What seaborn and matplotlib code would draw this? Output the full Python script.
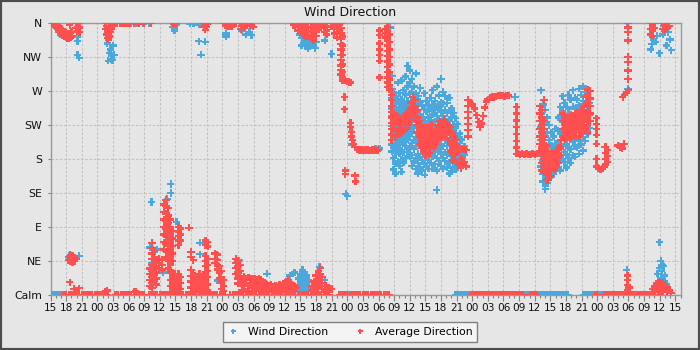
import numpy as np
import pandas as pd
import matplotlib
matplotlib.use("Agg")
import matplotlib.pyplot as plt
import seaborn as sns
from matplotlib.patches import Rectangle
from matplotlib.lines import Line2D
from matplotlib.ticker import MultipleLocator

# ---------------- data ----------------
# x: hours since 15:00 of the first day, y: direction in degrees (0 = Calm, 360 = N)
hour_labels = ["15", "18", "21", "00", "03", "06", "09", "12",
               "15", "18", "21", "00", "03", "06", "09", "12",
               "15", "18", "21", "00", "03", "06", "09", "12",
               "15", "18", "21", "00", "03", "06", "09", "12",
               "15", "18", "21", "00", "03", "06", "09", "12", "15"]
dir_labels = ["Calm", "NE", "E", "SE", "S", "SW", "W", "NW", "N"]
dir_ticks = [0, 45, 90, 135, 180, 225, 270, 315, 360]
series_names = ["Wind Direction", "Average Direction"]

# ---- Wind Direction (blue) ----
wind_north = [
    (1.3, [352]), (1.6, [348]), (1.9, [345]), (2.2, [343]),
    (5.2, [342, 336, 318]), (5.5, [314]),
    (10.9, [333]), (11.1, [310]), (11.3, [320]), (11.5, [325]), (11.6, [312]),
    (11.9, [311]), (12.0, [330]), (12.2, [318]),
    (15.5, [359]), (16.5, [360]), (17.8, [359]), (19.0, [360]),
    (23.4, [355]), (23.8, [350]), (24.0, [360]), (24.2, [357]),
    (26.8, [359]), (27.5, [360]), (28.5, [358, 336]), (28.9, [318]), (29.7, [335]),
    (33.7, [346, 342]),
    (36.8, [350]), (37.5, [345]), (38.2, [348]), (38.6, [344]),
    (47.9, [345]), (48.2, [330]), (48.3, [340]), (48.6, [350]), (48.8, [336]),
    (49.0, [344]), (49.2, [332]), (49.4, [326]), (49.6, [338]), (50.0, [334]),
    (50.2, [340]), (50.4, [330]), (50.8, [327]), (51.0, [335]),
    (52.7, [337]), (54.0, [319]),
    (65.2, [360, 354]),
    (110.7, [360]),
    (115.3, [325]), (115.5, [332]), (115.8, [338]), (116.2, [335]), (116.5, [343]),
    (117.0, [320]), (117.6, [345]), (117.8, [356]), (118.3, [330]), (118.6, [348]),
    (119.0, [338]), (119.2, [324]),
]
wind_cluster1 = [
    (65.6, [290, 273, 261, 247, 236, 224, 213, 199, 190]),
    (65.9, [268, 254, 243, 231, 219, 209, 195, 181, 166]),
    (66.3, [263, 249, 237, 227, 215, 201, 188, 174, 161]),
    (66.7, [281, 257, 245, 229, 217, 203, 193, 177]),
    (67.0, [267, 253, 239, 226, 213, 199, 187, 171]),
    (67.4, [284, 259, 247, 233, 219, 207, 191, 179, 163]),
    (67.8, [271, 254, 241, 229, 215, 203, 189, 175]),
    (68.2, [289, 265, 249, 237, 223, 209, 197, 181]),
    (68.6, [303, 276, 257, 245, 233, 217, 206, 189]),
    (69.0, [297, 281, 266, 251, 239, 223, 211, 195, 183]),
    (69.4, [286, 269, 257, 243, 231, 215, 201, 185, 171]),
    (69.8, [276, 261, 249, 233, 221, 205, 193, 177]),
    (70.2, [293, 267, 253, 237, 225, 209, 197, 181, 167]),
    (70.6, [263, 245, 231, 215, 203, 187, 175, 161]),
    (71.0, [274, 256, 239, 227, 211, 199, 183, 169]),
    (71.4, [251, 235, 223, 207, 195, 179, 165]),
    (71.9, [159]),
    (71.8, [267, 246, 229, 217, 201, 189, 173]),
    (72.2, [257, 243, 227, 215, 199, 187, 171]),
    (72.6, [251, 235, 223, 207, 195, 179, 167]),
    (73.0, [261, 247, 231, 219, 203, 191, 175]),
    (73.4, [271, 251, 239, 223, 211, 195, 183, 167]),
    (73.8, [257, 245, 229, 217, 201, 189, 173]),
    (74.2, [139]),
    (74.2, [276, 249, 237, 221, 209, 193, 181, 165]),
    (74.6, [264, 249, 233, 221, 205, 193, 177]),
    (75.0, [286, 255, 243, 227, 215, 199, 187, 171]),
    (75.4, [269, 253, 237, 225, 209, 197, 181, 167]),
    (75.8, [263, 245, 233, 217, 205, 189, 177]),
    (76.2, [254, 241, 225, 213, 197, 185, 169]),
    (76.6, [261, 244, 231, 215, 203, 187, 175, 161]),
    (77.0, [247, 235, 219, 207, 191, 179, 163]),
    (77.4, [241, 225, 213, 197, 185, 169]),
    (77.8, [234, 221, 205, 193, 177, 166]),
    (78.2, [226, 209, 197, 181, 171]),
    (78.6, [214, 201, 185, 173]),
    (79.0, [206, 189, 177]),
    (79.5, [197, 185]),
]
wind_cluster2 = [
    (94.2, [271, 240, 222, 205, 185, 170]),
    (94.6, [252, 232, 214, 196, 178, 160, 150]),
    (95.0, [245, 228, 210, 190, 172, 158, 145, 140]),
    (95.4, [235, 215, 195, 178, 160, 148]),
    (95.8, [225, 205, 185, 168, 155]),
    (96.2, [215, 198, 180, 162]),
    (96.6, [210, 192, 175, 160]),
    (97.0, [220, 200, 182, 166]),
    (97.5, [235, 217, 201, 183, 169]),
    (97.9, [249, 233, 214, 199, 181, 165]),
    (98.3, [263, 243, 229, 211, 197, 179]),
    (98.7, [254, 239, 221, 207, 189, 176]),
    (99.1, [249, 231, 217, 199, 186, 169]),
    (99.5, [265, 246, 227, 213, 195, 181]),
    (99.9, [259, 239, 225, 207, 193, 175]),
    (100.3, [271, 249, 235, 217, 203, 185]),
    (100.7, [261, 247, 229, 215, 197, 183]),
    (101.1, [259, 239, 225, 207, 195]),
    (101.5, [273, 251, 237, 219, 205, 187]),
    (101.9, [265, 249, 231, 217, 199]),
    (102.3, [276, 257, 241, 223, 209, 191]),
    (102.7, [269, 253, 235, 221, 204]),
    (103.1, [263, 245, 231, 213]),
    (103.5, [254, 239, 221]),
]
wind_misc = [
    (56.7, [134]), (57.0, [131]), (57.9, [199]),
    (62.4, [194]), (62.9, [192]), (63.2, [194]),
    (89.2, [262]), (106.5, [196]), (110.9, [273]),
]
wind_low = [
    (3.6, [52, 48]), (3.9, [50]), (4.3, [46]), (5.5, [52]),
    (19.1, [63]), (19.4, [123]), (19.5, [42]), (20.4, [60]), (21.6, [30]),
    (22.4, [127]), (23.1, [147, 135]), (24.2, [97]),
    (28.7, [69, 54, 26]), (32.0, [54, 19]), (36.2, [46]),
    (38.7, [22]), (41.6, [28]), (46.0, [26]), (46.9, [30]),
    (47.6, [22, 12, 4]), (48.0, [28, 18, 8]), (48.4, [33, 24, 14, 5]),
    (48.8, [30, 20, 10]), (49.2, [26, 16, 6]), (49.6, [20, 10]),
    (51.7, [37]), (52.7, [20]),
    (110.7, [33]),
    (116.2, [12]), (116.6, [28]), (116.8, [18]), (116.9, [36]), (117.0, [70]),
    (117.2, [45, 22]), (117.4, [32]), (117.6, [40]), (117.8, [38]), (117.9, [18]),
    (118.0, [26]), (118.3, [14]),
]
wind_calm_hours = [0.0, 0.4, 0.8, 1.2, 1.6, 2.0, 2.4, 57.4,
                   77.8, 78.2, 78.6, 79.0, 79.4, 79.8, 80.2, 80.6,
                   91.0, 91.4, 91.8, 92.2, 92.6, 93.0, 93.4, 93.8, 94.2, 94.6, 95.0,
                   95.4, 95.8, 96.2, 96.6, 97.0, 97.4, 97.8, 98.2, 98.6, 99.0, 99.4,
                   102.4, 102.8, 103.2, 103.6, 104.0, 104.4, 104.8, 105.2, 105.6, 106.0]

# ---- Average Direction (red) ----
avg_north = [
    (0.3, [360]), (0.6, [358, 360]), (0.9, [356, 360]), (1.2, [354, 360]),
    (1.5, [351, 356]), (1.8, [348, 354]), (2.1, [346, 352]), (2.4, [344, 350]),
    (2.7, [342, 348]), (3.0, [341, 347]), (3.3, [340, 346]), (3.6, [340, 346]),
    (3.9, [341, 347]), (4.1, [342, 348]), (3.7, [357]),
    (4.9, [360, 353]), (5.2, [360, 355, 349]), (5.6, [360, 354, 348]),
    (10.5, [360, 352]), (10.7, [356, 345]), (10.9, [350, 340]), (11.1, [346, 338]),
    (11.3, [350, 342]), (11.5, [354, 348]), (11.7, [358, 352]), (11.9, [360, 356]),
    (12.2, [360, 358]), (12.5, [360]), (12.8, [360]),
    (13.3, [360]), (13.8, [360]), (14.3, [360]), (14.8, [360]), (15.2, [360]),
    (16.0, [360]), (17.0, [359]), (18.0, [360]), (19.3, [360]),
    (23.6, [359]), (24.1, [360]),
    (29.3, [360]), (29.5, [355]), (29.7, [351]), (29.9, [360]), (30.0, [355]), (30.2, [359]),
    (33.2, [360]), (33.6, [357]), (34.0, [355, 360]), (34.4, [355]), (34.8, [356, 360]),
    (35.2, [358]), (35.6, [360]),
    (36.4, [360]), (36.6, [352]), (36.8, [356]), (37.2, [354]), (37.6, [358]),
    (38.1, [360]), (38.5, [357]), (38.9, [355]),
    (46.6, [360, 357]), (47.0, [360, 356]), (47.5, [360, 355, 350]),
    (48.0, [360, 354, 348]), (48.5, [360, 355, 349, 345]), (49.0, [360, 353, 347, 342]),
    (49.5, [360, 354, 348, 343]), (50.0, [360, 355, 349, 344, 339]),
    (50.5, [360, 354, 348, 342, 337]), (51.0, [360, 355, 349, 343]),
    (51.5, [360, 356, 351]), (52.0, [360, 357]),
    (52.6, [360, 354, 348]), (53.0, [356, 350, 345]),
    (54.0, [360, 355]), (54.5, [358, 352, 346]), (55.0, [360, 354, 348, 341]), (55.5, [357, 350]),
    (55.8, [360, 353, 346, 339, 332, 325, 318, 311, 304, 298, 292]),
    (56.1, [342, 330, 318, 305, 295, 288, 284]),
    (56.5, [284, 262, 246]), (56.9, [283]), (57.3, [282]), (57.6, [281]),
]
avg_drop = [
    (56.6, [165, 160]), (57.6, [228, 222]), (57.8, [216, 210]), (58.0, [205]),
    (58.2, [200]), (58.5, [196, 158]), (58.6, [150]), (58.9, [193]),
    (59.3, [192]), (59.7, [192]), (60.1, [191]), (60.5, [192]), (60.9, [192]),
    (61.3, [191]), (61.7, [192]), (62.1, [192]), (62.5, [191]), (62.9, [192]),
]
avg_cluster1 = [
    (63.2, [350, 344, 333, 325, 318, 310, 288]),
    (64.3, [352, 347, 341]),
    (64.7, [355, 349, 343, 337, 330, 323, 316, 309, 302, 295, 288, 281, 275]),
    (65.1, [345, 335, 325, 315, 305, 295, 285, 278, 272]),
    (65.5, [265, 258, 250, 242, 235, 228, 220, 212, 205]),
    (66.0, [240, 230, 220]), (66.4, [238, 228, 218, 210]), (66.8, [235, 225, 215]),
    (67.2, [232, 222, 214]), (67.6, [235, 225, 216]), (68.0, [238, 228, 218]),
    (68.4, [240, 230, 220]), (68.8, [245, 235, 225]),
    (69.2, [255, 248, 240, 232]), (69.6, [262, 255, 248, 240]),
    (70.0, [258, 250, 242, 232]), (70.4, [245, 235, 225, 215]),
    (70.8, [230, 220, 210, 200]), (71.2, [225, 215, 205, 195]),
    (71.6, [220, 210, 200, 190]), (72.0, [215, 205, 195, 185]),
    (72.4, [222, 212, 202]), (72.8, [218, 208, 198, 188]), (73.2, [225, 215, 205]),
    (73.6, [215, 205, 195]), (74.0, [220, 210, 200]), (74.4, [225, 215, 205]),
    (74.8, [230, 220, 210]), (75.2, [228, 218, 208]), (75.6, [232, 222, 212]),
    (76.0, [228, 218, 208]), (76.4, [225, 215, 205]), (76.8, [222, 212, 200, 190]),
    (77.2, [215, 205, 195, 185, 178]), (77.6, [210, 200, 192, 185]),
    (78.0, [205, 195, 190, 175]), (78.4, [195, 190, 172]), (78.8, [180, 172, 168]),
    (79.0, [194, 180, 172]), (79.4, [193, 176]), (79.8, [192, 170]),
]
avg_mid = [
    (80.2, [258, 250, 242, 234, 226, 218, 210]), (80.6, [254]), (81.0, [253]),
    (81.4, [247]), (81.8, [238]), (82.2, [229]), (82.5, [222]), (82.8, [227]),
    (83.1, [237]), (83.4, [248]), (83.7, [256]), (84.0, [259]), (84.4, [261]),
    (84.8, [262]), (85.2, [262]), (85.6, [263]), (86.0, [264]), (86.4, [264]),
    (86.8, [264]), (87.2, [263]), (87.6, [264]), (88.0, [264]),
    (89.5, [249, 240, 231, 222, 213, 204, 195, 187]),
    (89.8, [187]), (90.2, [186]), (90.6, [187]), (91.0, [186]), (91.4, [187]),
    (91.8, [186]), (92.2, [186]), (92.6, [187]), (93.0, [186]), (93.4, [187]), (93.8, [188]),
]
avg_cluster2 = [
    (94.0, [250, 240, 230, 220, 210, 200, 190]),
    (94.4, [245, 235, 225, 215, 205, 195, 185, 175, 165]),
    (94.8, [258, 230, 220, 210, 200, 190, 180, 170, 162]),
    (95.2, [198, 188, 178, 168, 160, 152]),
    (95.6, [190, 180, 170, 160, 152]), (96.0, [185, 175, 165, 157]),
    (96.4, [188, 178, 168]), (96.8, [186, 176, 166]), (97.2, [190, 180, 170]),
    (97.6, [195, 185, 175]), (98.0, [205, 195, 185]),
    (98.4, [240, 230, 220, 210]), (98.8, [236, 226, 216, 206]),
    (99.2, [235, 225, 215, 208]), (99.6, [232, 222, 212]),
    (100.0, [238, 228, 218, 208]), (100.4, [236, 226, 216]),
    (100.8, [240, 230, 220, 210]), (101.2, [242, 232, 222]),
    (101.6, [238, 228, 218, 210]), (102.0, [245, 235, 225, 215]),
    (102.4, [250, 240, 230, 220]), (102.8, [262, 252, 242, 232, 222]),
    (103.2, [272, 265, 255, 245, 235, 225, 215]), (103.6, [270, 260, 250, 240, 230]),
    (104.9, [234, 226, 220, 212, 200, 180, 170]),
    (105.2, [168]), (105.6, [166]), (106.0, [167]), (106.4, [170]),
    (106.6, [196, 188, 180, 173]), (107.0, [192, 184, 176]),
    (109.0, [198]), (109.4, [196]), (109.8, [194]), (110.2, [200]),
    (109.9, [262]), (110.3, [265]), (110.7, [268]), (111.0, [271]),
    (110.9, [360, 354, 348, 337, 315, 308, 297, 286]),
    (115.2, [360, 352, 345]), (115.6, [358, 350, 343]), (116.0, [360, 353]),
    (117.6, [360, 352]), (118.0, [358, 350]), (118.4, [360, 353]), (118.8, [356]),
]
avg_low = [
    (3.4, [50, 46]), (3.7, [17]), (3.8, [53, 48, 44]), (4.2, [52, 47, 43]),
    (4.6, [50, 45]), (5.0, [48]),
    (4.5, [8]), (5.0, [6]), (5.5, [9]), (10.6, [5]), (10.9, [6]), (16.0, [4]), (16.4, [5]),
    (19.1, [35, 28, 20, 12]), (19.5, [69, 62, 55, 48, 40, 32, 24, 16, 9]),
    (19.9, [58, 50, 42, 35, 27, 19]), (20.3, [45, 38, 30, 22, 14]),
    (20.8, [48, 42, 36]), (21.4, [47, 40, 34]),
    (21.8, [120, 110, 100, 90, 80, 70, 60]),
    (22.2, [126, 118, 108, 98, 88, 78, 68, 58, 50]),
    (22.6, [115, 105, 95, 85, 75, 65, 55, 45, 35]),
    (23.0, [100, 90, 80, 70, 60, 50, 40, 30, 20, 12]),
    (23.4, [85, 75, 65, 55, 45, 30, 22, 14, 6]),
    (23.8, [28, 20, 12, 5]), (24.2, [25, 18, 10, 4]),
    (24.6, [90, 84, 78, 72, 66, 28, 20, 12, 5]), (25.0, [88, 80, 72, 24, 16, 8]),
    (26.6, [89]), (27.0, [57, 50, 33, 25, 18, 10]), (27.4, [46, 28, 20, 12, 5]),
    (27.8, [26, 18, 10]), (28.2, [24, 16, 8]), (28.6, [28, 20, 12, 5]),
    (29.0, [25, 17, 9]), (29.4, [22, 14, 6]),
    (29.8, [72, 66, 52, 45, 38, 30, 20, 10]), (30.2, [70, 64, 48, 40, 32, 24, 14, 6]),
    (31.6, [55, 48, 42]), (32.0, [53, 46, 40, 34]), (32.4, [38, 30, 22]),
    (32.8, [32, 24, 16, 8]), (33.2, [20, 12, 5]),
    (35.6, [48, 42, 36, 28]), (36.0, [45, 38, 30, 22, 15]), (36.4, [40, 32, 24, 16]),
    (36.8, [22, 14, 6]), (37.2, [24, 16, 8]), (37.6, [22, 15]), (38.0, [23, 12, 5]),
    (38.4, [22, 14]), (38.8, [20, 10]), (39.2, [22, 14, 6]), (39.6, [21, 12]),
    (40.0, [22, 15, 7]), (40.4, [20, 12]), (40.8, [18, 10]), (41.2, [16, 8]), (41.6, [14, 6]),
    (42.0, [12, 5]), (42.4, [14, 7]), (42.8, [10]), (43.2, [13, 6]), (43.6, [11]),
    (44.0, [14, 7]), (44.4, [12]), (44.8, [15, 8]),
    (45.2, [18, 10]), (45.6, [20, 12, 5]), (46.0, [16, 8]), (46.4, [14, 6]),
    (46.8, [12, 5]), (47.2, [10]),
    (50.2, [12, 6]), (50.6, [18, 10]), (51.0, [26, 18, 10]), (51.4, [32, 24, 16, 8]),
    (51.8, [36, 28, 20, 12]), (52.2, [24, 16, 8]),
    (52.8, [12, 5]), (53.4, [10]), (54.0, [8]),
    (110.8, [26, 20, 13, 7]), (111.1, [10]),
    (115.6, [8, 3]), (116.0, [12, 6]), (116.4, [15, 8]), (116.8, [16, 10, 4]),
    (117.2, [17, 11, 5]), (117.6, [16, 10, 4]), (118.0, [14, 8]), (118.4, [10, 5]),
    (118.8, [6]), (119.2, [3]),
]
avg_calm_hours = [
    2.5, 3.0, 3.5, 4.0, 4.5, 5.0, 5.5, 6.0, 6.5, 7.0, 7.5, 8.0, 8.5, 9.0, 9.5, 10.0,
    10.5, 11.0, 12.5, 13.0, 13.5, 14.0, 14.5, 15.0, 15.5, 16.0, 16.5, 17.0, 17.5,
    18.0, 19.0, 19.5, 20.0, 20.5, 21.0, 21.5, 22.0, 22.5, 23.0, 23.5, 24.0,
    24.5, 25.0, 25.5, 26.0, 26.5, 27.0, 27.5, 28.0, 28.5, 29.0, 29.5, 30.0, 30.5,
    31.0, 31.5, 32.0, 32.5, 33.0, 33.5, 34.5, 35.0, 35.5, 36.0, 36.5, 37.0,
    37.5, 38.0, 38.5, 39.0, 39.5, 40.0, 40.5, 41.0, 41.5, 42.0, 42.5, 43.0, 43.5,
    44.0, 44.5, 45.0, 45.5, 46.0, 46.5, 47.0, 47.5, 48.0, 48.5, 49.0, 49.5, 50.0,
    50.5, 51.0, 51.5, 52.0, 52.5, 53.0, 53.5, 55.5, 56.0, 56.5, 57.0,
    57.5, 58.0, 58.5, 59.0, 59.5, 60.0, 60.5, 61.0, 61.5, 62.0, 62.5, 63.0, 63.5,
    64.0, 64.5, 65.0,
    80.8, 81.2, 81.6, 82.0, 82.4, 82.8, 83.2, 83.6, 84.0, 84.4, 84.8, 85.2, 85.6,
    86.0, 86.4, 86.8, 87.2, 87.6, 88.0, 88.4, 88.8, 89.2, 89.6, 90.0, 90.4, 90.8,
    92.2, 92.6, 93.0, 93.4,
    104.6, 105.0, 106.4, 106.8, 107.2, 107.6, 108.0, 108.4, 108.8, 109.2, 109.6,
    110.0, 110.4, 110.8, 111.2, 111.6, 112.0, 112.4, 112.8, 113.2, 113.6, 114.0,
    114.4, 114.8, 115.2, 115.6, 116.0,
]

# ---------------- build table ----------------
def expand(cols, name):
    rows = []
    for h, degs in cols:
        for d in degs:
            rows.append((h, d, name))
    return rows

rows = []
for seg in (wind_north, wind_cluster1, wind_cluster2, wind_misc, wind_low):
    rows += expand(seg, series_names[0])
rows += [(h, 0, series_names[0]) for h in wind_calm_hours]
for seg in (avg_north, avg_drop, avg_cluster1, avg_mid, avg_cluster2, avg_low):
    rows += expand(seg, series_names[1])
rows += [(h, 0, series_names[1]) for h in avg_calm_hours]
df = pd.DataFrame(rows, columns=["hour", "direction", "series"])

# ---------------- style ----------------
BG = "#e6e6e6"
BLUE = "#4aa8dc"
RED = "#ff4f4f"
plt.rcParams["font.family"] = ["DejaVu Sans"]

fig = plt.figure(figsize=(7, 3.5), dpi=100, facecolor=BG)
ax = fig.add_axes([50.5 / 700, 55 / 350, 630 / 700, 272 / 350])
ax.set_facecolor(BG)

sns.scatterplot(data=df, x="hour", y="direction", hue="series",
                hue_order=series_names, palette=[BLUE, RED],
                marker="P", s=27, linewidth=0, legend=False, ax=ax, zorder=3)

ax.set_xlim(0, 121)
ax.set_ylim(0, 360)
ax.set_xticks(np.arange(0, 121, 3))
ax.set_xticklabels(hour_labels)
ax.xaxis.set_minor_locator(MultipleLocator(1))
ax.set_yticks(dir_ticks)
ax.set_yticklabels(dir_labels)
ax.set_xlabel("")
ax.set_ylabel("")

ax.grid(True, which="major", linestyle=(0, (2.2, 1.6)), color="#c2c2c2", linewidth=0.8, zorder=1)
ax.set_axisbelow(True)
for sp in ax.spines.values():
    sp.set_color("#9a9a9a")
    sp.set_linewidth(1.0)

ax.tick_params(axis="x", which="major", length=4, width=0.8, color="#808080",
               pad=2, labelsize=7.6, labelcolor="#111111")
ax.tick_params(axis="x", which="minor", length=2, width=0.8, color="#808080")
ax.tick_params(axis="y", which="major", length=2, width=0.8, color="#808080",
               pad=4, labelsize=7.8, labelcolor="#111111")

fig.text(0.5, 1 - 12 / 350, "Wind Direction", ha="center", va="center",
         fontsize=9, color="#111111")

handles = [Line2D([], [], linestyle="none", marker="P", markersize=3.6,
                  markerfacecolor=BLUE, markeredgewidth=0),
           Line2D([], [], linestyle="none", marker="P", markersize=3.6,
                  markerfacecolor=RED, markeredgewidth=0)]
leg = fig.legend(handles, series_names, loc="lower center",
                 bbox_to_anchor=(0.5, 3 / 350), ncol=2, fontsize=7.8,
                 frameon=True, fancybox=False, edgecolor="#808080",
                 facecolor="#f4f4f4", framealpha=1, borderpad=0.45,
                 handlelength=1.0, handletextpad=0.9, columnspacing=2.4)
leg.get_frame().set_linewidth(1.0)

fig.patches.append(Rectangle((0, 0), 1, 1, transform=fig.transFigure, fill=False,
                             edgecolor="#4d4d4d", linewidth=3.0))

fig.savefig("out.png", dpi=100, facecolor=BG)
